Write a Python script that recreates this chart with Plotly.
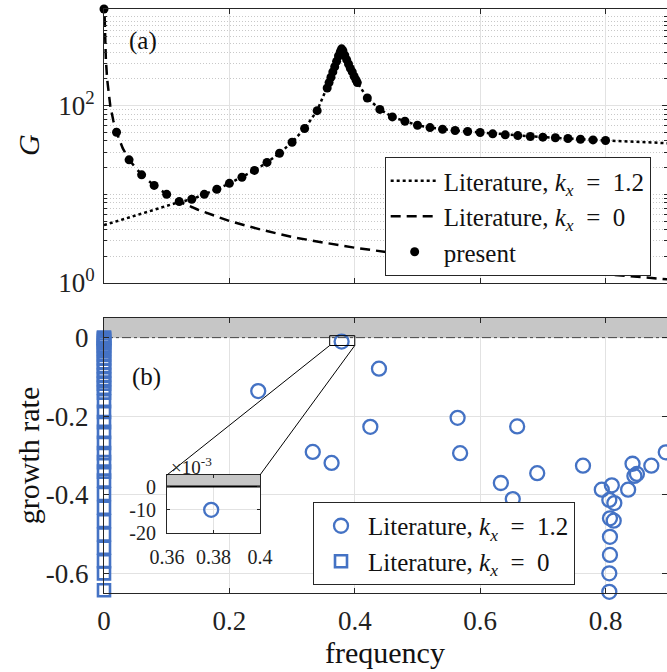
import plotly.graph_objects as go

# ---------------- panel (a): gain G versus frequency ----------------
# Literature curve, k_x = 1.2 (dotted)
lit12_f = [0.00, 0.02, 0.04, 0.06, 0.08, 0.10, 0.12, 0.14, 0.16, 0.18, 0.20, 0.22,
           0.24, 0.26, 0.28, 0.30, 0.32, 0.34, 0.356, 0.359, 0.362, 0.365, 0.368,
           0.371, 0.374, 0.377, 0.379, 0.381, 0.384, 0.387, 0.390, 0.393, 0.396,
           0.399, 0.402, 0.404, 0.42, 0.44, 0.46, 0.48, 0.50, 0.52, 0.54, 0.56,
           0.58, 0.60, 0.62, 0.64, 0.66, 0.68, 0.70, 0.72, 0.74, 0.76, 0.78, 0.80, 0.90]
lit12_G = [4.49, 4.97, 5.48, 6.07, 6.70, 7.41, 8.18, 8.79, 10.0, 11.4, 13.3, 15.6,
           18.6, 22.9, 29.1, 38.7, 55.2, 87.9, 158, 182, 209, 240, 275,
           316, 363, 407, 437, 417, 372, 331, 295, 263, 240,
           214, 195, 182, 122, 90.8, 74.6, 66.7, 60.1, 56.6, 54.2, 52.4,
           51.1, 49.8, 48.1, 46.9, 46.0, 44.9, 44.1, 43.4, 42.6, 41.8, 41.1, 40.5, 37.7]

# Literature curve, k_x = 0 (dashed)
lit0_f = [0.001, 0.0015, 0.002, 0.003, 0.005, 0.0075, 0.01, 0.015, 0.02, 0.03, 0.04,
          0.06, 0.08, 0.10, 0.12, 0.15, 0.20, 0.25, 0.30, 0.35, 0.40, 0.50, 0.60,
          0.70, 0.80, 0.90]
lit0_G = [1000, 670, 500, 330, 200, 133, 100, 67, 50, 33, 24.5,
          16.6, 12.6, 10.0, 8.3, 6.7, 5.0, 4.0, 3.3, 2.86, 2.5, 2.0, 1.67,
          1.43, 1.25, 1.1]

# Present results (dots)
pres_f = [0.00, 0.02, 0.04, 0.06, 0.08, 0.10, 0.12, 0.14, 0.16, 0.18, 0.20, 0.22,
          0.24, 0.26, 0.28, 0.30, 0.32, 0.34, 0.356, 0.359, 0.362, 0.365, 0.368,
          0.371, 0.374, 0.377, 0.379, 0.381, 0.384, 0.387, 0.390, 0.393, 0.396,
          0.399, 0.402, 0.404, 0.42, 0.44, 0.46, 0.48, 0.50, 0.52, 0.54, 0.56,
          0.58, 0.60, 0.62, 0.64, 0.66, 0.68, 0.70, 0.72, 0.74, 0.76, 0.78, 0.80]
pres_G = [1230, 50.1, 24.5, 16.6, 12.6, 10.0, 8.28, 8.79, 10.0, 11.4, 13.3, 15.6,
          18.6, 22.9, 29.1, 38.7, 55.2, 87.9, 158, 182, 209, 240, 275,
          316, 363, 407, 437, 417, 372, 331, 295, 263, 240,
          214, 195, 182, 122, 90.8, 74.6, 66.7, 60.1, 56.6, 54.2, 52.4,
          51.1, 49.8, 48.1, 46.9, 46.0, 44.9, 44.1, 43.4, 42.6, 41.8, 41.1, 40.5]

# ---------------- panel (b): growth rate versus frequency ----------------
circ_f = [0.379, 0.4386, 0.246, 0.564, 0.4248, 0.568, 0.333, 0.363, 0.633, 0.659,
          0.691, 0.652, 0.764, 0.794, 0.810, 0.806, 0.814, 0.807, 0.813, 0.807,
          0.807, 0.806, 0.806, 0.836, 0.843, 0.846, 0.850, 0.873, 0.896]
circ_g = [-0.010, -0.079, -0.136, -0.204, -0.227, -0.294, -0.291, -0.319, -0.370, -0.226,
          -0.345, -0.411, -0.326, -0.387, -0.376, -0.413, -0.421, -0.460, -0.466, -0.507,
          -0.553, -0.600, -0.647, -0.387, -0.321, -0.352, -0.347, -0.326, -0.292]

sq_g = [0.0, -0.002, -0.005, -0.009, -0.014, -0.020, -0.027, -0.035, -0.044, -0.053,
        -0.063, -0.073, -0.084, -0.095, -0.106, -0.117, -0.128, -0.140, -0.162, -0.189,
        -0.215, -0.240, -0.268, -0.294, -0.317, -0.341, -0.364, -0.398, -0.433, -0.467,
        -0.501, -0.535, -0.569, -0.600, -0.643]
sq_f = [0.0] * len(sq_g)

# tick labels
x_ticks = [0, 0.2, 0.4, 0.6, 0.8]
x_ticktext = ["0", "0.2", "0.4", "0.6", "0.8"]
g_ticks = [1, 100]
g_ticktext = ["10<sup>0</sup>", "10<sup>2</sup>"]
gr_ticks = [0, -0.2, -0.4, -0.6]
gr_ticktext = ["0", "-0.2", "-0.4", "-0.6"]
ins_xticks = [0.36, 0.38, 0.40]
ins_xticktext = ["0.36", "0.38", "0.4"]
ins_yticks = [0, -0.010, -0.020]
ins_yticktext = ["0", "-10", "-20"]

FONT = "Liberation Serif"
BLUE = "#4472C4"
AXC = "#262626"
GRID = "#e2e2e2"
BAND = "#c6c6c6"

X_RANGE = [0, 0.898]
GR_RANGE = [-0.65, 0.05]
INS_X = [0.36, 0.40]
INS_Y = [-0.020, 0.005]
INS_DOM_X = [0.1119, 0.2771]
INS_DOM_Y = [0.1027, 0.2021]
B_DOM_Y = [0.0, 0.4709]

LEG12 = "Literature, <i>k<sub>x</sub></i>&nbsp;&nbsp;=&nbsp;&nbsp;1.2"
LEG0 = "Literature, <i>k<sub>x</sub></i>&nbsp;&nbsp;=&nbsp;&nbsp;0"

fig = go.Figure()

# panel (a)
fig.add_trace(go.Scatter(x=lit12_f, y=lit12_G, mode="lines", name=LEG12,
                         line=dict(color="black", width=2.5, dash="dot"), xaxis="x", yaxis="y",
                         legend="legend"))
fig.add_trace(go.Scatter(x=lit0_f, y=lit0_G, mode="lines", name=LEG0,
                         line=dict(color="black", width=2.5, dash="10px,6px"), xaxis="x", yaxis="y",
                         legend="legend"))
fig.add_trace(go.Scatter(x=pres_f, y=pres_G, mode="markers", name="present",
                         marker=dict(color="black", size=9, symbol="circle"), cliponaxis=False,
                         xaxis="x", yaxis="y", legend="legend"))

# panel (b): shaded unstable band (growth rate > 0) and neutral line
fig.add_trace(go.Scatter(x=[X_RANGE[0], X_RANGE[1], X_RANGE[1], X_RANGE[0]],
                         y=[0, 0, GR_RANGE[1], GR_RANGE[1]], mode="none", fill="toself",
                         fillcolor=BAND, showlegend=False, hoverinfo="skip",
                         xaxis="x2", yaxis="y2"))
fig.add_trace(go.Scatter(x=X_RANGE, y=[0, 0], mode="lines", showlegend=False, hoverinfo="skip",
                         line=dict(color="#444", width=1, dash="dashdot"), xaxis="x2", yaxis="y2"))
fig.add_trace(go.Scatter(x=circ_f, y=circ_g, mode="markers", name=LEG12,
                         marker=dict(symbol="circle-open", size=14, color=BLUE, line=dict(width=2.3, color=BLUE)),
                         cliponaxis=False, xaxis="x2", yaxis="y2", legend="legend2"))
fig.add_trace(go.Scatter(x=sq_f, y=sq_g, mode="markers", name=LEG0,
                         marker=dict(symbol="square-open", size=12, color=BLUE, line=dict(width=2.6, color=BLUE)),
                         cliponaxis=False, xaxis="x2", yaxis="y2", legend="legend2"))

# inset (zoom near the least stable mode)
fig.add_trace(go.Scatter(x=[INS_X[0], INS_X[1], INS_X[1], INS_X[0]],
                         y=[0, 0, INS_Y[1], INS_Y[1]], mode="none", fill="toself",
                         fillcolor=BAND, showlegend=False, hoverinfo="skip",
                         xaxis="x3", yaxis="y3"))
fig.add_trace(go.Scatter(x=INS_X, y=[0, 0], mode="lines", showlegend=False, hoverinfo="skip",
                         line=dict(color="black", width=2), xaxis="x3", yaxis="y3"))
fig.add_trace(go.Scatter(x=circ_f, y=circ_g, mode="markers", showlegend=False,
                         marker=dict(symbol="circle-open", size=14, color=BLUE, line=dict(width=2.3, color=BLUE)),
                         xaxis="x3", yaxis="y3"))

TICKFONT = dict(family=FONT, size=27, color="#222")
INSFONT = dict(family=FONT, size=20, color="#222")
axis_common = dict(showline=True, linecolor=AXC, linewidth=1, mirror="ticks", ticks="inside",
                   tickcolor=AXC, zeroline=False, showgrid=True, gridcolor=GRID, gridwidth=1,
                   automargin=False)

minor_vals = [v * 10 ** k for k in range(0, 3) for v in range(2, 10)] + [10, 1000]

fig.update_layout(
    width=667, height=672,
    margin=dict(l=104, r=0, t=9, b=79, autoexpand=False),
    paper_bgcolor="white", plot_bgcolor="white",
    font=dict(family=FONT, color="#222"),
    xaxis=dict(domain=[0, 1], anchor="y", range=X_RANGE, tickvals=x_ticks,
               showticklabels=False, ticklen=5, tickfont=TICKFONT, **axis_common),
    yaxis=dict(domain=[0.5308, 1], anchor="x", type="log", range=[0, 3.09],
               tickvals=g_ticks, ticktext=g_ticktext, ticklen=5, ticklabelstandoff=3,
               tickfont=TICKFONT,
               minor=dict(tickvals=minor_vals, ticks="inside", ticklen=3, tickcolor=AXC,
                          showgrid=True, griddash="1px,2px", gridcolor="#c8c8c8", gridwidth=1),
               **axis_common),
    xaxis2=dict(domain=[0, 1], anchor="y2", range=X_RANGE, tickvals=x_ticks, ticktext=x_ticktext,
                ticklen=5, ticklabelstandoff=4, tickfont=TICKFONT, **axis_common),
    yaxis2=dict(domain=B_DOM_Y, anchor="x2", range=GR_RANGE, tickvals=gr_ticks,
                ticktext=gr_ticktext, ticklen=5, ticklabelstandoff=9, tickfont=TICKFONT,
                **axis_common),
    xaxis3=dict(domain=INS_DOM_X, anchor="y3", range=INS_X, tickvals=ins_xticks,
                ticktext=ins_xticktext, ticklen=3, ticklabelstandoff=6, tickfont=INSFONT,
                **axis_common),
    yaxis3=dict(domain=INS_DOM_Y, anchor="x3", range=INS_Y, tickvals=ins_yticks,
                ticktext=ins_yticktext, ticklen=3, ticklabelstandoff=6, tickfont=INSFONT,
                **axis_common),
    legend=dict(x=0.971, y=0.5428, xanchor="right", yanchor="bottom",
                bgcolor="white", bordercolor=AXC, borderwidth=1, itemwidth=48,
                font=dict(family=FONT, size=25, color="#111"), tracegroupgap=0),
    legend2=dict(x=0.8366, y=0.0137, xanchor="right", yanchor="bottom",
                 bgcolor="white", bordercolor=AXC, borderwidth=1, itemwidth=44,
                 font=dict(family=FONT, size=25, color="#111"), tracegroupgap=0),
)

# zoom box and connectors from the box to the inset corners
fig.add_shape(type="rect", xref="x2", yref="y2", x0=INS_X[0], x1=INS_X[1], y0=INS_Y[0], y1=INS_Y[1],
              line=dict(color="black", width=1), layer="above")
ix0 = X_RANGE[0] + INS_DOM_X[0] * (X_RANGE[1] - X_RANGE[0])
ix1 = X_RANGE[0] + INS_DOM_X[1] * (X_RANGE[1] - X_RANGE[0])
iy_top = GR_RANGE[0] + (INS_DOM_Y[1] - B_DOM_Y[0]) / (B_DOM_Y[1] - B_DOM_Y[0]) * (GR_RANGE[1] - GR_RANGE[0])
fig.add_shape(type="line", xref="x2", yref="y2", x0=INS_X[0], y0=INS_Y[0], x1=ix0, y1=iy_top,
              line=dict(color="black", width=1), layer="above")
fig.add_shape(type="line", xref="x2", yref="y2", x0=INS_X[1], y0=INS_Y[0], x1=ix1, y1=iy_top,
              line=dict(color="black", width=1), layer="above")

fig.add_annotation(text="(a)", xref="x", yref="y", x=0.062, y=2.73, showarrow=False,
                   xanchor="center", yanchor="middle", font=dict(family=FONT, size=25, color="#111"))
fig.add_annotation(text="(b)", xref="x2", yref="y2", x=0.067, y=-0.099, showarrow=False,
                   xanchor="center", yanchor="middle", font=dict(family=FONT, size=25, color="#111"))
fig.add_annotation(text="<i>G</i>", xref="paper", yref="paper", x=-0.135, y=0.767,
                   xanchor="center", yanchor="middle", showarrow=False, textangle=-90,
                   font=dict(family=FONT, size=30, color="#111"))
fig.add_annotation(text="growth rate", xref="paper", yref="paper", x=-0.135, y=0.236,
                   xanchor="center", yanchor="middle", showarrow=False, textangle=-90,
                   font=dict(family=FONT, size=30, color="#111"))
fig.add_annotation(text="frequency", xref="paper", yref="paper", x=0.499, y=-0.1027,
                   xanchor="center", yanchor="middle", showarrow=False,
                   font=dict(family=FONT, size=30, color="#111"))
fig.add_annotation(text="×10<sup>-3</sup>", xref="paper", yref="paper", x=0.156, y=0.2175,
                   xanchor="center", yanchor="middle", showarrow=False,
                   font=dict(family=FONT, size=19, color="#222"))

fig.write_html("out.html")
